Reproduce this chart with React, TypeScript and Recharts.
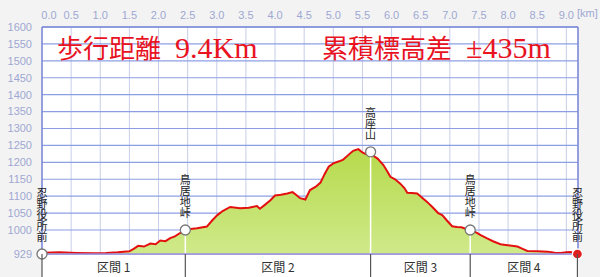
import {
  ComposedChart,
  Area,
  XAxis,
  YAxis,
  CartesianGrid,
  ReferenceDot,
  ReferenceLine,
} from "recharts";

// 標高プロファイル (距離 km / 標高 m)
const distanceKm = [
  0.0, 0.05, 0.3, 0.6, 0.9, 1.1, 1.3, 1.5, 1.58, 1.65, 1.75, 1.86, 1.95, 2.03,
  2.12, 2.2, 2.28, 2.37, 2.46, 2.55, 2.66, 2.83, 2.92, 3.01, 3.1, 3.23, 3.4,
  3.55, 3.69, 3.74, 3.83, 3.92, 4.0, 4.1, 4.21, 4.3, 4.36, 4.43, 4.52, 4.6,
  4.7, 4.78, 4.85, 4.92, 5.0, 5.1, 5.17, 5.26, 5.34, 5.43, 5.5, 5.55, 5.64,
  5.7, 5.76, 5.86, 5.92, 5.98, 6.06, 6.15, 6.22, 6.27, 6.35, 6.44, 6.52, 6.61,
  6.7, 6.8, 6.87, 6.95, 7.04, 7.12, 7.2, 7.28, 7.35, 7.45, 7.53, 7.64, 7.75,
  7.87, 7.99, 8.16, 8.25, 8.33, 8.5, 8.68, 8.8, 8.9, 9.0, 9.07, 9.19,
];
const elevationM = [
  929, 933, 934, 932, 931, 932, 934, 937, 945, 953, 951, 960, 958, 969, 967,
  976, 981, 991, 1000, 1003, 1005, 1010, 1028, 1044, 1056, 1068, 1064, 1066,
  1071, 1063, 1075, 1088, 1102, 1104, 1108, 1112, 1104, 1094, 1090, 1118, 1128,
  1140, 1165, 1187, 1197, 1203, 1208, 1222, 1234, 1239, 1229, 1225, 1231, 1218,
  1211, 1192, 1175, 1157, 1150, 1137, 1124, 1110, 1109, 1108, 1096, 1083, 1068,
  1050, 1044, 1028, 1011, 1009, 1008, 1003, 1000, 993, 985, 975, 966, 958, 955,
  951, 944, 938, 937, 936, 933, 932, 934, 935, 930,
];

const xTicks = [
  0, 0.5, 1, 1.5, 2, 2.5, 3, 3.5, 4, 4.5, 5, 5.5, 6, 6.5, 7, 7.5, 8, 8.5, 9,
];
const yTicks = [
  929, 1000, 1050, 1100, 1150, 1200, 1250, 1300, 1350, 1400, 1450, 1500, 1550,
  1600,
];

const waypointNames = ["忍野役所前", "鳥居地峠", "高座山", "鳥居地峠", "忍野役所前"];
const waypointKm = [0, 2.46, 5.64, 7.35, 9.19];
const waypointElev = [929, 1000, 1231, 1000, 929];
const sectionNames = ["区間 1", "区間 2", "区間 3", "区間 4"];

const data = distanceKm.map((km, i) => ({ km, elev: elevationM[i] }));

// 区間ラベルは区切りの中間に
const sectionTicks: number[] = [];
waypointKm.forEach((k, i) => {
  sectionTicks.push(k);
  if (i < waypointKm.length - 1) sectionTicks.push((k + waypointKm[i + 1]) / 2);
});

const jp = "'Noto Sans CJK JP', sans-serif";
const tickColor = "#9ea8d2";
const titleFont = "'Liberation Serif', 'Noto Sans CJK JP', serif";

const TopTick = (props: any) => {
  const { x, y, payload } = props;
  const dx = payload.value === 0 ? 7 : 0;
  return (
    <text
      x={x + dx}
      y={y - 8}
      textAnchor="middle"
      fill={tickColor}
      fontSize={11}
      fontFamily="'Liberation Sans', sans-serif"
    >
      {payload.value.toFixed(1)}
    </text>
  );
};

const SectionTick = (props: any) => {
  const { x, y, index } = props;
  if (index % 2 === 0) {
    return <line x1={x} y1={y} x2={x} y2={y + 24} stroke="#555" strokeWidth={1.2} />;
  }
  return (
    <text x={x} y={y + 18} textAnchor="middle" fill="#333" fontSize={12} fontFamily={jp}>
      {sectionNames[(index - 1) / 2]}
    </text>
  );
};

const makeDot = (name: string, last: boolean) => (p: any) => {
  const { cx, cy } = p;
  return (
    <g>
      <circle
        cx={cx}
        cy={cy}
        r={5}
        fill={last ? "#e02020" : "#fff"}
        stroke={last ? "#fff" : "#777"}
        strokeWidth={1.3}
      />
      <text
        x={cx}
        y={cy - 12}
        textAnchor="end"
        fontSize={11}
        fill="#222"
        fontFamily={jp}
        style={{ writingMode: "vertical-rl" }}
      >
        {name}
      </text>
    </g>
  );
};

const App = () => {
  return (
    <div
      style={{
        position: "absolute",
        left: 0,
        top: 0,
        width: 600,
        height: 277,
        background: "#f3f3f3",
        overflow: "hidden",
      }}
    >
      <div
        style={{ position: "absolute", left: 42, top: 255, width: 536, height: 22, background: "#fff" }}
      />
      <ComposedChart
        width={600}
        height={277}
        data={data}
        margin={{ top: 0, right: 22, bottom: 0, left: 0 }}
        style={{ position: "absolute", left: 0, top: 0 }}
      >
        <defs>
          <linearGradient id="fillG" x1="0" y1="0" x2="0" y2="1">
            <stop offset="0%" stopColor="#b6da4c" />
            <stop offset="100%" stopColor="#cfe98a" />
          </linearGradient>
        </defs>
        <CartesianGrid xAxisId="top" horizontal={false} stroke="#c6cee8" fill="#fff" />
        <CartesianGrid xAxisId="top" vertical={false} stroke="#8d9fe4" strokeWidth={1.2} />
        <XAxis
          xAxisId="top"
          type="number"
          dataKey="km"
          orientation="top"
          domain={[0, 9.2]}
          ticks={xTicks}
          interval={0}
          height={27}
          tickLine={false}
          tickSize={0}
          tickMargin={0}
          axisLine={{ stroke: "#7d88d8", strokeWidth: 1.5 }}
          tick={<TopTick />}
          allowDataOverflow
        />
        <XAxis
          xAxisId="sec"
          type="number"
          dataKey="km"
          orientation="bottom"
          domain={[0, 9.2]}
          ticks={sectionTicks}
          interval={0}
          height={23}
          tickLine={false}
          tickSize={0}
          tickMargin={0}
          axisLine={{ stroke: "#9a8ede", strokeWidth: 1.5 }}
          tick={<SectionTick />}
          allowDataOverflow
        />
        <YAxis
          type="number"
          domain={[929, 1600]}
          ticks={yTicks}
          interval={0}
          width={42}
          tickLine={false}
          tickSize={0}
          tickMargin={10}
          axisLine={{ stroke: "#7d88d8", strokeWidth: 1.5 }}
          tick={{ fill: tickColor, fontSize: 11, fontFamily: "'Liberation Sans', sans-serif" }}
          allowDataOverflow
        />
        <ReferenceLine xAxisId="top" x={9.2} stroke="#7d88d8" strokeWidth={1.5} />
        <Area
          xAxisId="top"
          type="linear"
          dataKey="elev"
          stroke="#e41010"
          strokeWidth={2}
          fill="url(#fillG)"
          fillOpacity={1}
          dot={false}
          activeDot={false}
          isAnimationActive={false}
        />
        {waypointKm.slice(1, -1).map((k, i) => (
          <ReferenceLine
            key={"w" + i}
            xAxisId="top"
            segment={[
              { x: k, y: waypointElev[i + 1] },
              { x: k, y: 929 },
            ]}
            stroke="#fff"
            strokeWidth={1.5}
          />
        ))}
        {waypointKm.map((k, i) => (
          <ReferenceDot
            key={"d" + i}
            xAxisId="top"
            x={k}
            y={waypointElev[i]}
            r={5}
            ifOverflow="visible"
            shape={makeDot(waypointNames[i], i === waypointKm.length - 1)}
          />
        ))}
      </ComposedChart>
      <div
        style={{
          position: "absolute",
          left: 577,
          top: 7,
          fontSize: 11,
          color: tickColor,
          fontFamily: "'Liberation Sans', sans-serif",
        }}
      >
        [km]
      </div>
      <div
        style={{
          position: "absolute",
          left: 57,
          top: 34,
          fontSize: 26,
          lineHeight: "28px",
          color: "#e8131f",
          whiteSpace: "pre",
          fontFamily: titleFont,
        }}
      >
        歩行距離 <span style={{ fontSize: 30 }}> 9.4Km</span>
      </div>
      <div
        style={{
          position: "absolute",
          left: 322,
          top: 34,
          fontSize: 26,
          lineHeight: "28px",
          color: "#e8131f",
          whiteSpace: "pre",
          fontFamily: titleFont,
        }}
      >
        累積標高差 <span style={{ fontSize: 30 }}> ±435m</span>
      </div>
    </div>
  );
};

export default App;
